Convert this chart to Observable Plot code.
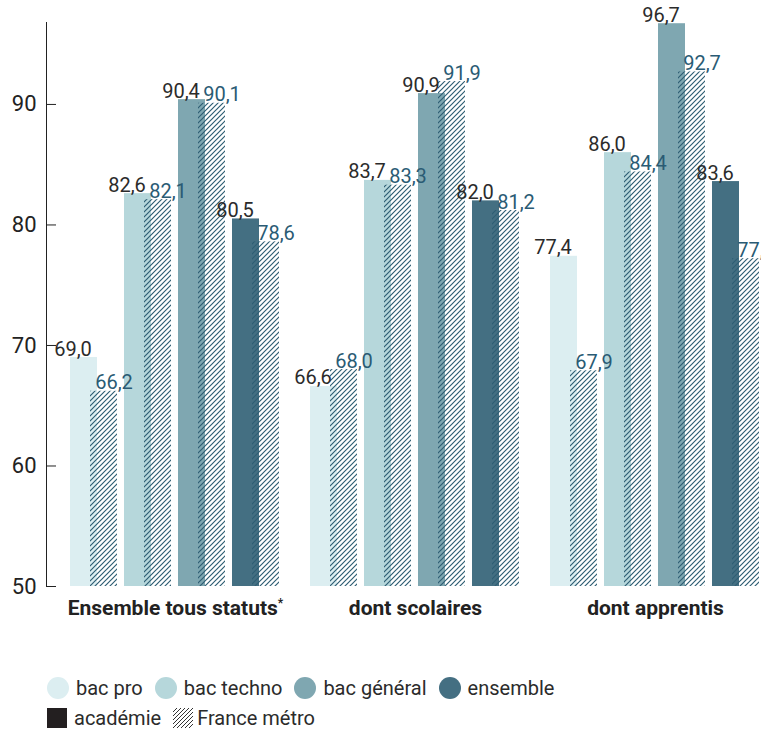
<!DOCTYPE html>
<html><head><meta charset="utf-8">
<script src="https://cdn.jsdelivr.net/npm/d3@7"></script>
<script src="https://cdn.jsdelivr.net/npm/@observablehq/plot@0.6"></script>
<style>
body{margin:0;background:#fff;font-family:Roboto,sans-serif;color:#2b2b2b;}
#chart svg{overflow:hidden;display:block}
.legend{margin-left:47px;margin-top:43px;font-size:20px;}
.row{display:flex;align-items:center;height:30px;}
.item{display:flex;align-items:center;margin-right:12px;}
.dot{width:22px;height:22px;border-radius:50%;margin-right:7px;}
.sq{width:20px;height:20px;margin-right:7px;}
</style></head><body>
<div id="chart"></div>
<div class="legend"><div class="row" id="row1"></div><div class="row" id="row2"></div></div>
<script>
const groups = ["Ensemble tous statuts", "dont scolaires", "dont apprentis"];
const categories = ["bac pro", "bac techno", "bac général", "ensemble"];
const academieEnsemble = [69.0, 82.6, 90.4, 80.5];
const academieScolaires = [66.6, 83.7, 90.9, 82.0];
const academieApprentis = [77.4, 86.0, 96.7, 83.6];
const franceEnsemble = [66.2, 82.1, 90.1, 78.6];
const franceScolaires = [68.0, 83.3, 91.9, 81.2];
const franceApprentis = [67.9, 84.4, 92.7, 77.2];
const yTicks = [50, 60, 70, 80, 90];
const categoryColors = ["#dceef1", "#b6d7db", "#7fa7b1", "#446f82"];
const sources = ["académie", "France métro"];

const academieValues = [academieEnsemble, academieScolaires, academieApprentis];
const franceValues = [franceEnsemble, franceScolaires, franceApprentis];
const acad = [], fr = [];
groups.forEach((g, gi) => categories.forEach((c, ci) => {
  acad.push({group: g, cat: c, value: academieValues[gi][ci]});
  fr.push({group: g, cat: c, value: franceValues[gi][ci]});
}));
const fmt = v => v.toFixed(1).replace(".", ",");
const yMin = yTicks[0];
const font = 'Roboto,sans-serif';

const chart = Plot.plot({
  width: 761, height: 630,
  marginLeft: 43, marginRight: 0, marginTop: 22, marginBottom: 44,
  style: {fontFamily: font, color: "#2b2b2b", background: "white"},
  fx: {domain: groups, paddingInner: 0.116, paddingOuter: 0.0477, align: 1, label: null},
  x: {domain: categories, paddingInner: 0.127, paddingOuter: 0, axis: null},
  y: {domain: [50, 96.8], axis: null},
  color: {domain: categories, range: categoryColors},
  marks: [
    Plot.barY(acad, {fx: "group", x: "cat", y1: yMin, y2: "value", fill: "cat", insetRight: 20}),
    Plot.barY(fr, {fx: "group", x: "cat", y1: yMin, y2: "value", fill: "url(#hatch)", insetLeft: 20}),
    Plot.text(acad, {fx: "group", x: "cat", y: "value", text: d => fmt(d.value), dx: -21, dy: -2, lineAnchor: "bottom", fill: "#2b2b2b", fontSize: 20}),
    Plot.text(fr, {fx: "group", x: "cat", y: "value", text: d => fmt(d.value), dx: 20, dy: -2, lineAnchor: "bottom", fill: "#2a5b74", fontSize: 20}),
    Plot.frame({anchor: "left", facetAnchor: "left", dx: -23, stroke: "#222"}),
    Plot.axisY({ticks: yTicks, tickSize: -10, tickPadding: 20, dx: -23, fontSize: 22, tickFormat: d => String(d), label: null, stroke: "#222", fill: "#222"}),
    Plot.axisFx({anchor: "bottom", tickSize: 0, tickPadding: 14, fontSize: 21, fontWeight: "bold", fill: "#222", label: null, tickFormat: d => d === groups[0] ? d + "*" : d})
  ]
});

const svg = d3.select(chart);
const defs = svg.insert("defs", ":first-child");
const pat = defs.append("pattern").attr("id", "hatch").attr("patternUnits", "userSpaceOnUse").attr("width", 5).attr("height", 5);
pat.append("path").attr("d", "M-1,1 l2,-2 M0,5 l5,-5 M4,6 l2,-2").attr("stroke", "#2d5d73").attr("stroke-width", 1.2);
svg.selectAll("text").each(function() {
  if (this.textContent.endsWith("*") && this.childNodes.length) {
    const node = this.querySelector("tspan") || this;
    const txt = node.textContent;
    node.textContent = txt.slice(0, -1);
    d3.select(node).append("tspan").attr("font-size", "12px").attr("dy", "-0.7em").text("*");
  }
});
document.getElementById("chart").appendChild(chart);

const row1 = d3.select("#row1");
categories.forEach((c, i) => {
  const it = row1.append("div").attr("class", "item");
  it.append("div").attr("class", "dot").style("background", categoryColors[i]);
  it.append("span").text(c);
});
const row2 = d3.select("#row2");
const it1 = row2.append("div").attr("class", "item");
it1.append("div").attr("class", "sq").style("background", "#231f20");
it1.append("span").text(sources[0]);
const it2 = row2.append("div").attr("class", "item");
it2.append("span").html('<svg width="20" height="20" style="display:block;margin-right:4px"><defs><pattern id="hatchL" patternUnits="userSpaceOnUse" width="4" height="4"><path d="M-1,1 l2,-2 M0,4 l4,-4 M3,5 l2,-2" stroke="#333" stroke-width="1"/></pattern></defs><rect width="20" height="20" fill="url(#hatchL)"/></svg>');
it2.append("span").text(sources[1]);
</script>
</body></html>
